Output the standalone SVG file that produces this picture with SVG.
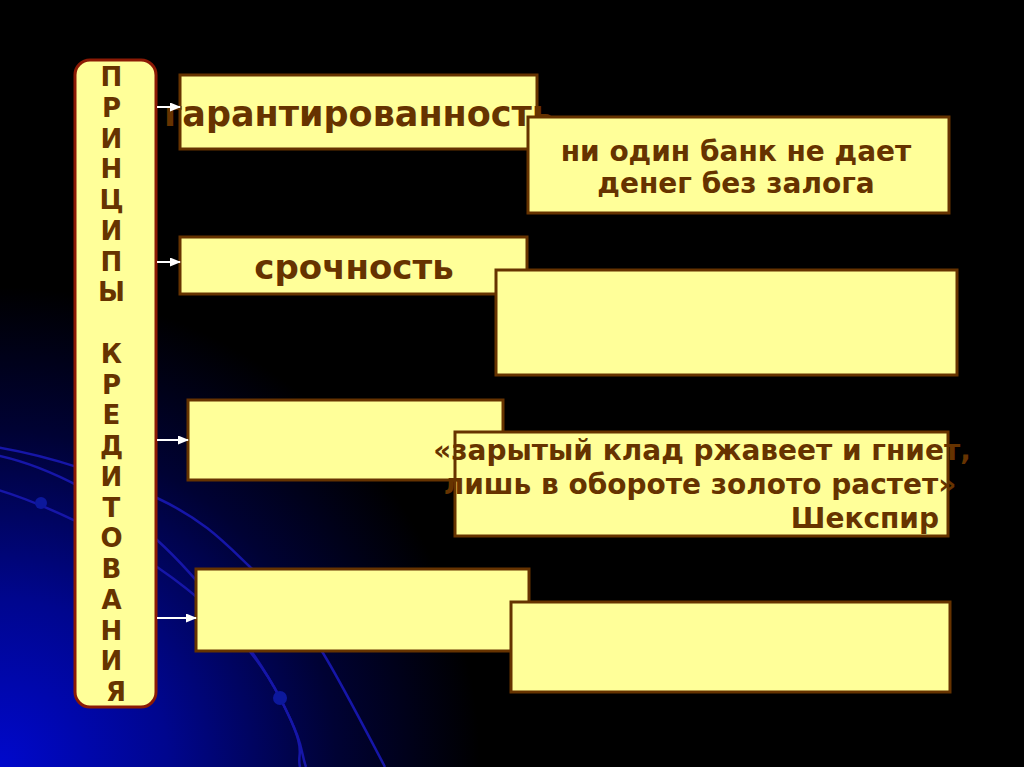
<svg xmlns="http://www.w3.org/2000/svg" width="1024" height="767" viewBox="0 0 1024 767">
<defs>
<radialGradient id="glow" gradientUnits="userSpaceOnUse" cx="0" cy="767" r="480">
<stop offset="0" stop-color="#0008cc"/>
<stop offset="0.35" stop-color="#00068e"/>
<stop offset="0.7" stop-color="#000234"/>
<stop offset="1" stop-color="#000000"/>
</radialGradient>
<marker id="ah" markerWidth="11" markerHeight="9" refX="10" refY="4.5" orient="auto" markerUnits="userSpaceOnUse">
<path d="M0,0 L11,4.5 L0,9 Z" fill="#ffffff"/>
</marker>
<style>
.box{fill:#ffff99;stroke:#663300;stroke-width:3}
.pill{fill:#ffff99;stroke:#8b1a05;stroke-width:3}
.t{font-family:"DejaVu Sans","Noto Sans",sans-serif;font-weight:bold;fill:#663300}
.arc{fill:none;stroke:#1616a8;stroke-width:2.5}
.dot{fill:#0c189c}
.conn{stroke:#ffffff;stroke-width:2;fill:none;marker-end:url(#ah)}
</style>
</defs>
<rect x="0" y="0" width="1024" height="767" fill="#000"/>
<rect x="0" y="0" width="1024" height="767" fill="url(#glow)"/>
<g id="background">
<path class="arc" d="M -5,447 C 50,456 110,476 157,498 S 225,543 250,567 S 303,620 323,653 S 368,735 385,767"/>
<path class="arc" d="M -5,455 C 50,466 115,502 157,540 S 255,650 280,698 S 300,750 306,767"/>
<path class="arc" d="M -5,489 C 40,502 110,535 157,567 S 250,640 280,698 S 296,750 300,767"/>
<circle class="dot" cx="41" cy="503" r="6"/>
<circle class="dot" cx="280" cy="698" r="7"/>
</g>
<g id="principles">
<rect class="pill" x="75" y="60" width="81" height="647" rx="15" ry="15"/>
<text class="t" font-size="26" text-anchor="middle">
<tspan x="116" y="86">П</tspan>
<tspan x="116" y="116.75">Р</tspan>
<tspan x="116" y="147.5">И</tspan>
<tspan x="116" y="178.25">Н</tspan>
<tspan x="116" y="209">Ц</tspan>
<tspan x="116" y="239.75">И</tspan>
<tspan x="116" y="270.5">П</tspan>
<tspan x="116" y="301.25">Ы</tspan>
<tspan x="116" y="362.75">К</tspan>
<tspan x="116" y="393.5">Р</tspan>
<tspan x="116" y="424.25">Е</tspan>
<tspan x="116" y="455">Д</tspan>
<tspan x="116" y="485.75">И</tspan>
<tspan x="116" y="516.5">Т</tspan>
<tspan x="116" y="547.25">О</tspan>
<tspan x="116" y="578">В</tspan>
<tspan x="116" y="608.75">А</tspan>
<tspan x="116" y="639.5">Н</tspan>
<tspan x="116" y="670.25">И</tspan>
<tspan x="116" y="701">Я</tspan>
</text>
</g>
<g id="guarantee">
<rect class="box" x="180" y="75" width="357" height="74"/>
<text class="t" font-size="35" x="359" y="126" text-anchor="middle">гарантированность</text>
</g>
<g id="guarantee-note">
<rect class="box" x="528" y="117" width="421" height="96"/>
<text class="t" font-size="28" text-anchor="middle"><tspan x="736" y="161">ни один банк не дает</tspan><tspan x="736" y="193">денег без залога</tspan></text>
</g>
<g id="urgency">
<rect class="box" x="180" y="237" width="347" height="57"/>
<text class="t" font-size="34" x="354" y="279" text-anchor="middle">срочность</text>
</g>
<g id="urgency-note">
<rect class="box" x="496" y="270" width="461" height="105"/>
</g>
<g id="principle3">
<rect class="box" x="188" y="400" width="315" height="80"/>
</g>
<g id="quote">
<rect class="box" x="455" y="432" width="493" height="104"/>
<text class="t" font-size="28" text-anchor="middle"><tspan x="702" y="460">«зарытый клад ржавеет и гниет,</tspan><tspan x="700" y="494">лишь в обороте золото растет»</tspan></text>
<text class="t" font-size="28" x="939" y="528" text-anchor="end">Шекспир</text>
</g>
<g id="principle4">
<rect class="box" x="196" y="569" width="333" height="82"/>
</g>
<g id="principle4-note">
<rect class="box" x="511" y="602" width="439" height="90"/>
</g>
<g id="connectors">
<line class="conn" x1="157" y1="107" x2="180" y2="107"/>
<line class="conn" x1="157" y1="262" x2="180" y2="262"/>
<line class="conn" x1="157" y1="440" x2="188" y2="440"/>
<line class="conn" x1="157" y1="618" x2="196" y2="618"/>
</g>
</svg>
